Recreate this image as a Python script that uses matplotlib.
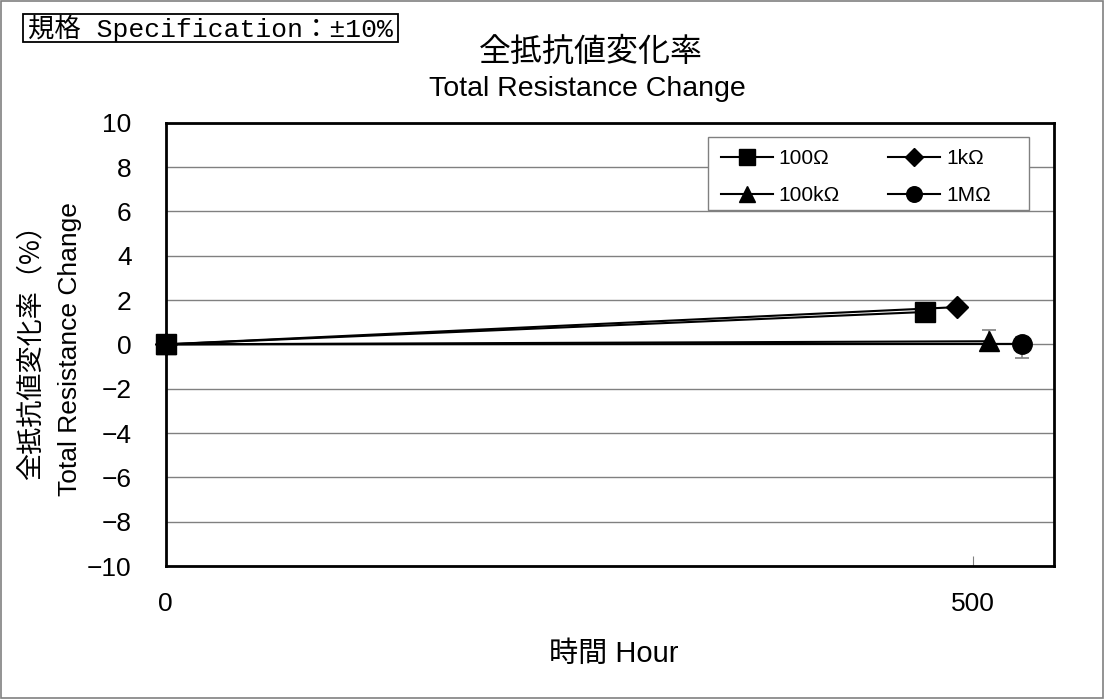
import matplotlib
matplotlib.use("Agg")
import matplotlib.pyplot as plt
from matplotlib.patches import Rectangle

plt.rcParams['font.family'] = ['Liberation Sans', 'Noto Sans CJK JP', 'DejaVu Sans']

# Data
labels = ["100Ω", "1kΩ", "100kΩ", "1MΩ"]
hours = [[0, 470], [0, 490], [0, 510], [0, 530]]
changes = [[0.0, 1.46], [0.0, 1.68], [0.0, 0.14], [0.0, 0.02]]
err_low = [[0.0, 0.0], [0.0, 0.0], [0.0, 0.3], [0.0, 0.62]]
err_high = [[0.0, 0.0], [0.0, 0.0], [0.0, 0.5], [0.0, 0.3]]
markers = ["s", "D", "^", "o"]
msizes = [14, 11, 14, 14]
zorders = [6, 5, 4, 3]

yticks = [-10, -8, -6, -4, -2, 0, 2, 4, 6, 8, 10]
xticks = [0, 500]

W, H = 1104, 699
fig = plt.figure(figsize=(W / 100, H / 100), dpi=100)
ax = fig.add_axes([165.7 / W, 1 - 566 / H, (1054 - 165.7) / W, (566 - 122.7) / H])

handles = {}
for lab, x, y, lo, hi, m, ms, z in zip(labels, hours, changes, err_low, err_high,
                                        markers, msizes, zorders):
    ax.errorbar(x, y, yerr=[lo, hi], fmt='none', ecolor='#808080', elinewidth=1.2,
                capsize=5, capthick=1.2, zorder=z - 0.5)
    h, = ax.plot(x, y, color='black', lw=1.5, marker=m, ms=ms, mfc='black', mec='black',
                 label=lab, zorder=z, clip_on=False)
    handles[lab] = h

ax.set_xlim(0, 550)
ax.set_ylim(-10, 10)
ax.set_yticks(yticks)
ax.set_yticklabels([str(v).replace('-', '\u2212') for v in yticks])
ax.set_xticks(xticks)
ax.yaxis.grid(True, color='#808080', lw=1)
ax.set_axisbelow(True)
ax.tick_params(axis='y', length=0, pad=24.5, labelsize=19)
ax.tick_params(axis='x', direction='in', length=7, pad=18.5, labelsize=19, color='#808080')
for s in ax.spines.values():
    s.set_linewidth(2)
    s.set_color('black')

# Legend frame (drawn as a patch so its width matches the original)
ax.add_patch(Rectangle((708 / W, 1 - 210 / H), 321 / W, 73 / H, transform=fig.transFigure,
                       fc='white', ec='#808080', lw=1, zorder=4.5, clip_on=False))
order = ["100Ω", "100kΩ", "1kΩ", "1MΩ"]
leg = ax.legend([handles[k] for k in order], order, ncol=2, loc='upper left',
                bbox_to_anchor=(708 / W, 1 - 137 / H), bbox_transform=fig.transFigure,
                borderaxespad=0, fontsize=15, frameon=False,
                handlelength=2.5, handletextpad=0.3,
                columnspacing=2.3, borderpad=0.6, labelspacing=0.86, markerscale=0.8)
leg.set_zorder(5)

# Titles and labels
fig.text(591 / W, 1 - 52 / H, "全抵抗値変化率", ha='center', va='center', fontsize=23,
         family=['Noto Sans CJK JP'])
fig.text(587 / W, 1 - 88.5 / H, "Total Resistance Change", ha='center', va='center',
         fontsize=20.5)
fig.text(31 / W, 1 - 345 / H, "全抵抗値変化率（%）", ha='center', va='center', fontsize=19.5,
         rotation=90, family=['Noto Sans CJK JP'])
fig.text(70 / W, 1 - 349 / H, "Total Resistance Change", ha='center', va='center',
         fontsize=19, rotation=90)
fig.text(614 / W, 1 - 653.5 / H, "時間 Hour", ha='center', va='center', fontsize=21,
         family=['Liberation Sans', 'Noto Sans CJK JP'])

# Specification box
fig.patches.append(Rectangle((23 / W, 1 - 42 / H), 375 / W, 28 / H, transform=fig.transFigure,
                             fill=False, ec='black', lw=1.3))
fig.text(28 / W, 1 - 28 / H, "規格 Specification：±10%", ha='left', va='center', fontsize=19,
         family=['Liberation Mono', 'Noto Sans CJK JP', 'DejaVu Sans'])

# Outer border
fig.patches.append(Rectangle((0.001, 0.001), 0.998, 0.998, transform=fig.transFigure,
                             fill=False, ec='#808080', lw=1.2))

fig.savefig("out.png", dpi=100)
